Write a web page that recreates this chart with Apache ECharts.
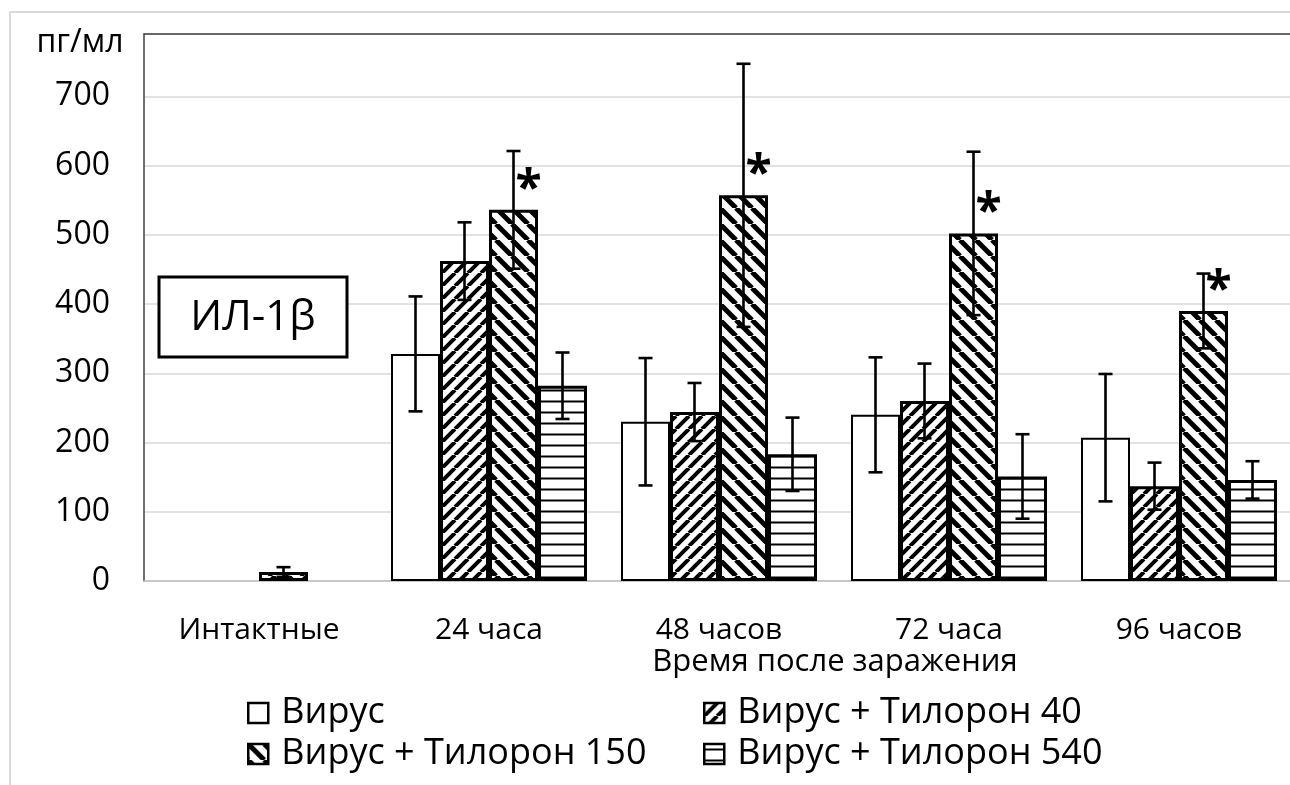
<!DOCTYPE html>
<html>
<head>
<meta charset="utf-8">
<script src="https://cdn.jsdelivr.net/npm/echarts@6/dist/echarts.min.js"></script>
<style>
  html, body { margin: 0; padding: 0; background: #fff; overflow: hidden; width: 1290px; height: 785px; }
  #wrap { position: relative; width: 1330px; height: 785px; overflow: hidden; }
  #chart { position: absolute; left: 0; top: 0; width: 1330px; height: 785px; }
  /* chart-area frame, open on the right and bottom */
  #frame { position: absolute; left: 9px; top: 11px; width: 1400px; height: 900px;
           border-left: 2px solid #d9d9d9; border-top: 2px solid #d9d9d9; pointer-events: none; }
</style>
</head>
<body>
<div id="wrap">
  <div id="chart"></div>
  <div id="frame"></div>
</div>
<script>
// Groups on the x axis
const categories = ['Интактные', '24 часа', '48 часов', '72 часа', '96 часов'];

// Series names (legend)
const seriesNames = ['Вирус', 'Вирус + Тилорон 40', 'Вирус + Тилорон 150', 'Вирус + Тилорон 540'];

// Mean IL-1β concentration, pg/ml (null = no bar)
const virus        = [null, 328, 230, 240, 207];
const tilorone40   = [null, 462, 244, 260, 137];
const tilorone150  = [13,   536, 557, 502, 390];
const tilorone540  = [null, 282, 183, 151, 146];

// Error bar half-widths, pg/ml
const virusErr       = [null, 83, 92, 83, 92];
const tilorone40Err  = [null, 56, 42, 54, 34];
const tilorone150Err = [7,    85, 190, 118, 54];
const tilorone540Err = [null, 48, 53, 61, 27];

// Significance marks over the Тилорон 150 bars
const significance = ['', '*', '*', '*', '*'];

// Value axis ticks
const yTickStep = 100;
const yMax = 790;

const FONT = 'Open Sans';
const BAR_W = 49;

// Black-and-white hatch fills
function hatch(kind, size, lineW) {
  const c = document.createElement('canvas');
  c.width = size; c.height = size;
  const g = c.getContext('2d');
  g.fillStyle = '#fff';
  g.fillRect(0, 0, size, size);
  g.strokeStyle = '#000';
  g.lineWidth = lineW;
  g.beginPath();
  if (kind === 'horizontal') {
    g.moveTo(0, size / 2); g.lineTo(size, size / 2);
  } else if (kind === 'up') {
    for (const o of [-size, 0, size]) { g.moveTo(o, size); g.lineTo(o + size, 0); }
  } else {
    for (const o of [-size, 0, size]) { g.moveTo(o, 0); g.lineTo(o + size, size); }
  }
  g.stroke();
  return { image: c, repeat: 'repeat' };
}

const fills = [
  '#ffffff',
  hatch('up', 13, 4),
  hatch('down', 16, 5),
  hatch('horizontal', 11, 2)
];
const borderWidths = [2, 3, 3, 3];
const values = [virus, tilorone40, tilorone150, tilorone540];
const errors = [virusErr, tilorone40Err, tilorone150Err, tilorone540Err];

const barSeries = values.map((vals, i) => ({
  name: seriesNames[i],
  type: 'bar',
  data: vals,
  barWidth: BAR_W,
  barGap: '0%',
  itemStyle: { color: fills[i], borderColor: '#000', borderWidth: borderWidths[i] },
  label: i === 2 ? {
    show: true,
    position: 'top',
    offset: [15, 9],
    formatter: p => significance[p.dataIndex],
    fontFamily: FONT,
    fontWeight: 'bold',
    fontSize: 48,
    color: '#000'
  } : { show: false },
  z: 2
}));

// Error bars drawn over each bar, shifted to that bar's slot in the group
const errorSeries = values.map((vals, i) => ({
  type: 'custom',
  data: vals.flatMap((v, k) => v == null ? [] : [[k, v, errors[i][k]]]),
  encode: { x: 0, y: 1 },
  z: 10,
  silent: true,
  renderItem: (params, api) => {
    const c = api.value(0), v = api.value(1), e = api.value(2);
    const hi = api.coord([c, v + e]);
    const lo = api.coord([c, v - e]);
    const x = hi[0] + (i - 1.5) * BAR_W;
    const cap = 7;
    const style = { stroke: '#000', lineWidth: 2.6 };
    return {
      type: 'group',
      children: [
        { type: 'line', shape: { x1: x, y1: hi[1], x2: x, y2: lo[1] }, style },
        { type: 'line', shape: { x1: x - cap, y1: hi[1], x2: x + cap, y2: hi[1] }, style },
        { type: 'line', shape: { x1: x - cap, y1: lo[1], x2: x + cap, y2: lo[1] }, style }
      ]
    };
  }
}));

const legendCommon = {
  orient: 'vertical',
  icon: 'rect',
  itemWidth: 20,
  itemHeight: 20,
  itemGap: 5,
  padding: 0,
  top: 695,
  selectedMode: false,
  itemStyle: { borderColor: '#000', borderWidth: 2.5 },
  textStyle: { fontFamily: FONT, fontSize: 36, color: '#000', lineHeight: 36, padding: [0, 0, 0, 8] }
};

const chart = echarts.init(document.getElementById('chart'));
chart.setOption({
  backgroundColor: 'transparent',
  animation: false,
  grid: { left: 144, top: 34, width: 1150, height: 547, containLabel: false, outerBoundsMode: 'none' },
  xAxis: [
    {
      type: 'category',
      data: categories,
      axisLine: { show: true, lineStyle: { color: '#bfbfbf', width: 1.5 } },
      axisTick: { show: false },
      axisLabel: { fontFamily: FONT, fontSize: 30, color: '#000', margin: 34 }
    },
    {
      type: 'category',
      position: 'top',
      data: categories,
      axisLine: { show: true, lineStyle: { color: '#404040', width: 1.5 } },
      axisTick: { show: false },
      axisLabel: { show: false }
    }
  ],
  yAxis: {
    type: 'value',
    min: 0,
    max: yMax,
    interval: yTickStep,
    axisLine: { show: true, lineStyle: { color: '#404040', width: 1.5 } },
    axisTick: { show: false },
    splitLine: { lineStyle: { color: '#d9d9d9', width: 1.5 } },
    axisLabel: { fontFamily: FONT, fontSize: 32, color: '#000', margin: 34, showMaxLabel: false }
  },
  legend: [
    Object.assign({}, legendCommon, { left: 247, data: [seriesNames[0], seriesNames[2]] }),
    Object.assign({}, legendCommon, { left: 703, data: [seriesNames[1], seriesNames[3]] })
  ],
  graphic: [
    { type: 'text', x: 80, y: 43,
      style: { text: 'пг/мл', fontFamily: FONT, fontSize: 32, fill: '#000', align: 'center', verticalAlign: 'middle' } },
    { type: 'text', x: 835, y: 662,
      style: { text: 'Время после заражения', fontFamily: FONT, fontSize: 31, fill: '#000', align: 'center', verticalAlign: 'middle' } },
    { type: 'rect', z: 20, shape: { x: 159, y: 277, width: 188, height: 80 },
      style: { fill: '#fff', stroke: '#000', lineWidth: 3 } },
    { type: 'text', z: 21, x: 253, y: 318,
      style: { text: 'ИЛ-1β', fontFamily: FONT, fontSize: 42, fill: '#000', align: 'center', verticalAlign: 'middle' } }
  ],
  series: [...barSeries, ...errorSeries]
});
</script>
</body>
</html>
